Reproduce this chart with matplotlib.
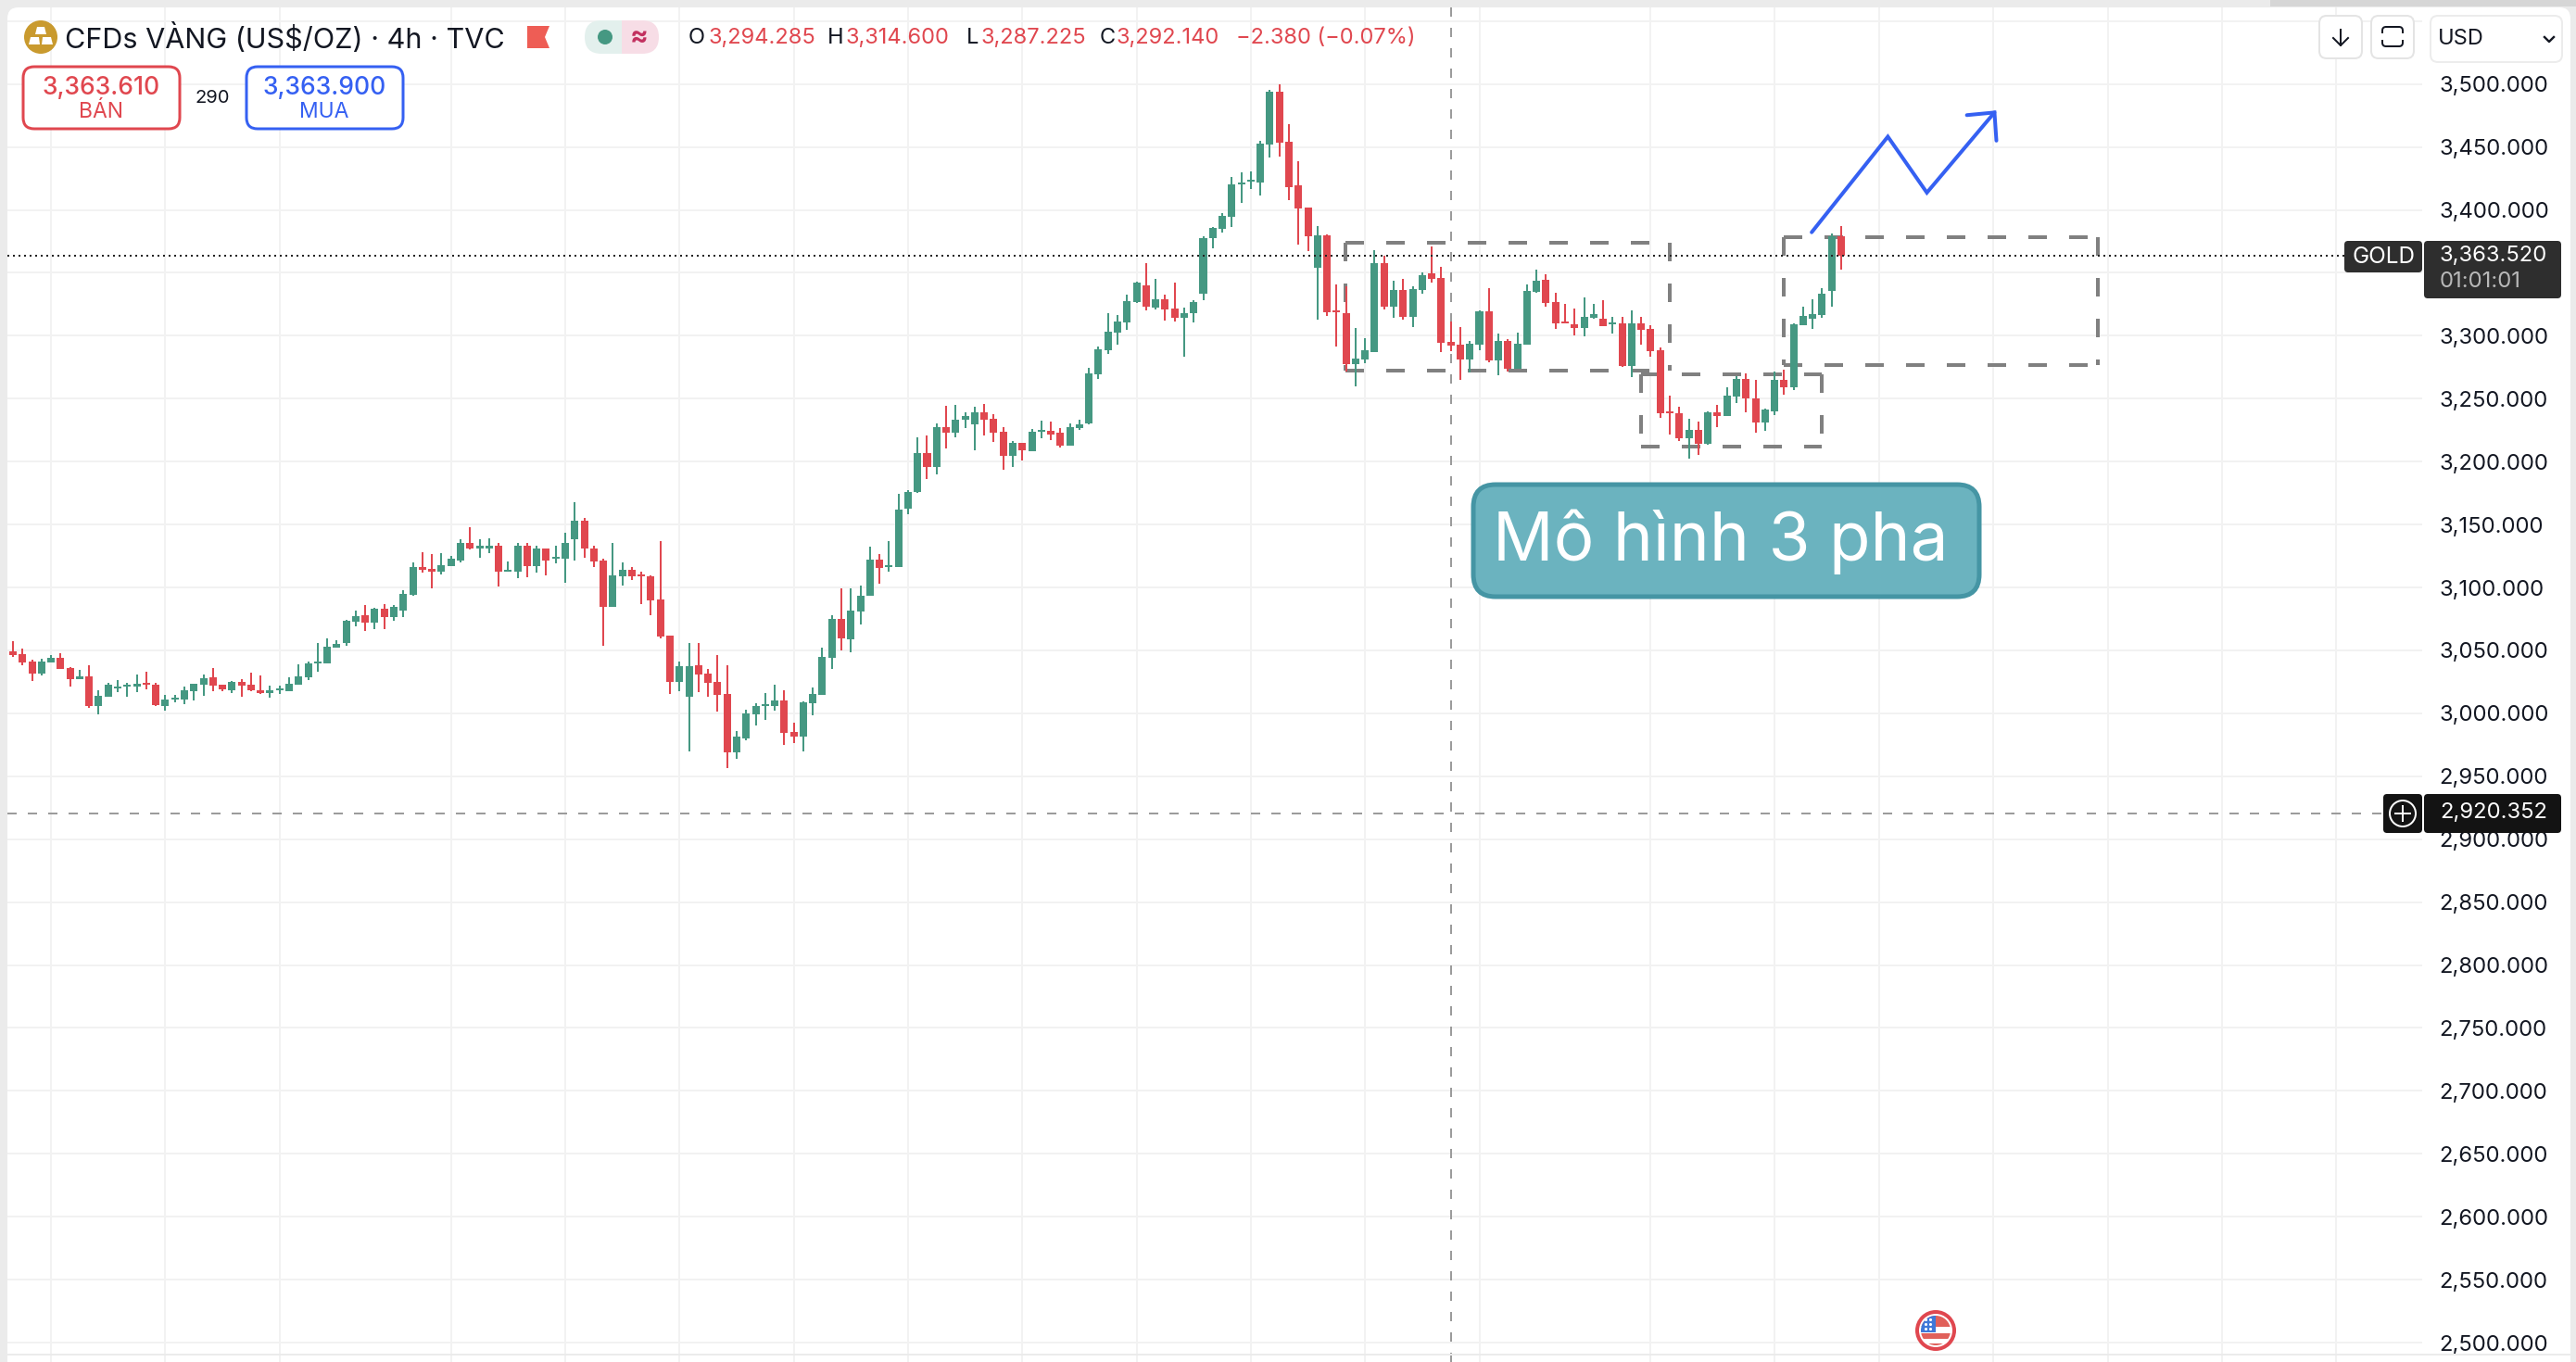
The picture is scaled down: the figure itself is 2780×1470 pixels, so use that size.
import matplotlib
matplotlib.use("Agg")
import matplotlib.pyplot as plt
from matplotlib.patches import FancyBboxPatch, Circle, Polygon, Rectangle

plt.rcParams['font.family'] = ['Inter', 'DejaVu Sans']
plt.rcParams['lines.scale_dashes'] = False

# gia tung nen, doc tu hinh
opens = [3049.0,3046.8,3040.9,3031.4,3040.2,3043.9,3035.8,3027.0,3029.2,3005.7,
         3013.0,3019.6,3021.1,3021.1,3024.0,3022.6,3005.7,3010.8,3010.8,3017.4,
         3022.6,3028.4,3022.6,3018.1,3024.8,3022.6,3018.1,3015.9,3018.1,3017.4,
         3022.6,3028.4,3039.5,3039.5,3052.0,3055.6,3072.5,3077.7,3071.8,3082.8,
         3076.2,3081.4,3093.9,3115.9,3114.4,3112.2,3116.6,3121.0,3135.0,3131.3,
         3131.3,3132.8,3112.2,3112.2,3132.8,3116.6,3130.6,3122.5,3122.5,3138.0,
         3152.7,3131.3,3121.0,3084.3,3108.6,3113.7,3110.0,3108.6,3090.2,3061.5,
         3024.8,3013.0,3038.0,3031.4,3024.8,3015.2,2968.9,2979.9,2999.0,3005.7,
         3005.7,3010.1,2985.1,2981.4,3007.9,3014.5,3043.9,3074.7,3058.6,3080.6,
         3093.1,3121.8,3115.9,3115.9,3162.3,3175.5,3207.1,3195.4,3227.7,3223.3,
         3233.6,3229.9,3239.5,3234.3,3224.0,3204.2,3214.5,3208.6,3224.0,3224.8,
         3222.6,3212.3,3227.0,3230.6,3269.6,3288.7,3302.7,3310.8,3326.9,3340.2,
         3322.5,3329.1,3321.8,3314.4,3318.1,3333.2,3377.3,3384.6,3394.2,3419.9,
         3422.8,3421.4,3452.2,3494.1,3454.4,3419.2,3401.5,3353.7,3379.5,3319.9,
         3317.7,3277.3,3281.0,3286.9,3357.4,3322.9,3336.1,3314.8,3336.1,3349.3,
         3345.7,3294.9,3292.7,3281.0,3292.7,3319.2,3280.2,3295.7,3273.6,3292.7,
         3334.6,3344.1,3326.5,3311.0,3308.8,3305.9,3314.0,3313.3,3308.8,3309.6,
         3275.8,3309.6,3305.2,3288.3,3239.8,3238.3,3218.4,3225.1,3214.0,3239.0,
         3236.1,3251.5,3265.5,3250.0,3230.9,3239.8,3264.7,3258.9,3308.1,3313.3,
         3316.2,3335.3,3379.4]
highs = [3057.1,3051.2,3042.4,3043.1,3046.1,3047.6,3036.5,3034.3,3038.0,3018.1,
         3024.0,3026.2,3024.0,3030.6,3032.9,3024.0,3014.5,3014.5,3021.1,3023.3,
         3030.6,3035.8,3022.6,3025.5,3027.0,3032.1,3029.9,3021.8,3021.8,3028.4,
         3038.7,3040.9,3055.6,3059.3,3057.8,3074.0,3081.4,3085.8,3083.6,3086.5,
         3085.8,3097.5,3119.6,3127.7,3126.2,3126.9,3124.7,3138.0,3148.2,3138.0,
         3138.7,3135.0,3120.3,3135.0,3135.0,3133.5,3131.3,3133.5,3143.8,3167.4,
         3154.9,3133.5,3122.5,3135.0,3119.6,3115.9,3112.2,3109.3,3136.5,3061.5,
         3040.9,3055.6,3055.6,3035.1,3046.1,3038.0,2985.8,3002.7,3007.9,3015.9,
         3022.6,3018.1,2992.4,3009.3,3020.4,3052.0,3077.7,3099.0,3099.0,3101.2,
         3132.1,3126.2,3136.5,3174.7,3177.0,3219.6,3220.4,3230.6,3244.6,3245.3,
         3239.5,3243.9,3246.1,3238.0,3227.7,3216.7,3215.2,3226.2,3232.9,3232.1,
         3227.0,3230.6,3233.6,3274.7,3291.7,3318.1,3316.6,3332.8,3343.1,3357.8,
         3345.3,3332.8,3342.4,3322.5,3328.4,3378.7,3386.1,3397.1,3426.5,3430.2,
         3430.9,3455.2,3495.6,3500.0,3468.4,3439.0,3402.2,3386.8,3380.2,3340.5,
         3339.0,3306.0,3297.9,3367.7,3363.3,3343.4,3344.9,3339.0,3350.1,3370.6,
         3354.5,3311.1,3306.7,3295.7,3319.9,3337.6,3301.6,3297.1,3302.2,3340.4,
         3352.9,3348.5,3333.8,3325.0,3321.3,3330.2,3325.0,3327.9,3314.7,3314.7,
         3319.9,3314.7,3308.1,3290.5,3252.2,3243.4,3233.9,3231.7,3239.8,3244.9,
         3258.9,3267.7,3269.9,3264.7,3241.9,3271.4,3272.8,3309.6,3322.8,3328.7,
         3337.5,3381.6,3386.8]
lows = [3044.6,3038.0,3025.5,3029.9,3040.2,3035.1,3021.1,3027.0,3004.2,2999.0,
        3013.0,3016.7,3013.0,3016.7,3018.9,3005.7,3002.0,3008.6,3007.1,3010.1,
        3013.7,3017.4,3017.4,3015.9,3013.0,3017.4,3015.2,3012.3,3015.2,3017.4,
        3022.6,3026.2,3032.9,3039.5,3052.0,3053.4,3068.9,3065.2,3066.7,3066.7,
        3073.3,3076.2,3093.1,3111.5,3099.0,3110.0,3116.6,3119.6,3129.9,3123.3,
        3126.9,3100.5,3112.2,3107.1,3107.8,3111.5,3109.3,3118.8,3103.4,3121.0,
        3123.3,3115.9,3053.4,3084.3,3101.2,3105.6,3086.5,3077.7,3059.3,3015.2,
        3017.4,2969.6,3016.7,3013.0,3001.2,2956.4,2963.8,2978.5,2990.2,2994.6,
        3002.0,2974.8,2976.3,2969.6,2998.3,3014.5,3035.1,3049.8,3048.3,3070.3,
        3093.1,3102.7,3112.2,3115.9,3157.9,3174.8,3186.5,3190.2,3210.1,3219.6,
        3227.0,3209.3,3221.1,3215.9,3193.2,3195.4,3201.2,3208.6,3218.9,3217.4,
        3211.5,3212.3,3225.5,3229.9,3265.9,3285.8,3293.1,3304.9,3326.2,3320.3,
        3321.1,3312.2,3311.5,3283.6,3310.8,3328.0,3369.2,3381.7,3386.1,3405.9,
        3416.9,3411.1,3441.9,3442.7,3408.1,3372.1,3367.0,3312.6,3315.5,3291.3,
        3271.4,3259.7,3278.0,3286.9,3320.7,3314.0,3312.6,3306.7,3333.2,3342.0,
        3286.9,3287.6,3264.8,3270.7,3288.3,3278.8,3268.5,3271.4,3273.6,3292.7,
        3333.8,3322.8,3305.2,3309.6,3300.0,3299.3,3313.3,3307.4,3301.5,3275.0,
        3266.9,3292.7,3283.1,3234.6,3221.4,3216.2,3202.3,3205.2,3213.3,3227.3,
        3236.1,3246.4,3239.0,3222.8,3224.3,3236.8,3253.0,3256.7,3308.1,3305.2,
        3314.0,3322.8,3352.2]
closes = [3046.1,3040.2,3031.4,3040.9,3043.9,3035.1,3027.0,3029.2,3005.7,3013.7,
          3022.6,3021.1,3022.6,3023.3,3022.6,3006.4,3010.8,3012.3,3018.1,3023.3,
          3027.7,3021.8,3018.9,3024.8,3021.8,3018.1,3015.9,3018.1,3019.6,3023.3,
          3029.2,3039.5,3040.9,3052.7,3054.9,3073.3,3077.0,3071.8,3082.8,3076.2,
          3084.3,3094.6,3115.9,3113.7,3112.2,3117.4,3122.5,3135.0,3130.6,3132.8,
          3133.5,3112.2,3113.7,3132.8,3116.6,3130.6,3121.0,3124.0,3135.0,3152.7,
          3130.6,3120.3,3084.3,3109.3,3113.7,3108.6,3108.6,3089.4,3060.8,3024.8,
          3037.3,3037.3,3030.6,3024.0,3014.5,2968.9,2981.4,2999.8,3005.7,3007.1,
          3010.1,2984.3,2981.4,3008.6,3015.2,3044.6,3074.7,3059.3,3081.4,3093.1,
          3121.8,3115.2,3117.4,3162.2,3175.5,3207.1,3195.4,3227.7,3222.6,3233.6,
          3236.5,3239.5,3233.6,3223.3,3204.2,3214.5,3209.3,3224.0,3225.5,3221.8,
          3212.3,3227.7,3229.9,3270.3,3289.4,3303.4,3311.5,3327.7,3342.4,3323.3,
          3329.1,3321.1,3314.4,3318.1,3326.9,3377.3,3385.3,3394.9,3420.6,3422.1,
          3424.3,3453.0,3494.1,3453.7,3417.7,3400.8,3378.7,3379.5,3318.5,3318.5,
          3277.3,3281.7,3288.3,3357.4,3322.9,3336.1,3314.8,3336.8,3347.9,3344.9,
          3294.2,3292.0,3281.0,3293.5,3319.2,3280.2,3295.7,3273.6,3293.4,3335.3,
          3343.4,3325.7,3309.6,3309.6,3305.9,3314.7,3316.9,3307.4,3310.3,3275.8,
          3309.6,3304.4,3287.5,3238.3,3238.3,3218.4,3225.1,3214.0,3239.0,3236.1,
          3252.2,3265.5,3250.0,3230.9,3241.2,3264.7,3258.9,3308.8,3315.5,3316.9,
          3333.1,3379.4,3363.5]

# luoi gia va moc thoi gian (so thu tu nen)
price_ticks = list(range(2500, 3551, 50))
hidden_ticks = [3350, 3550]  # bi nhan gia / nut USD che
time_grid = [4, 16, 28, 46, 58, 70, 82, 94, 106, 118, 130, 142, 154, 172, 185, 196, 208, 220, 232, 244]

last_price = 3363.52
cross_price = 2920.352
cross_idx = 151

# cac hinh ve tren chart: (nen trai, nen phai, gia duoi, gia tren)
boxes = [(139.9, 174.0, 3272.3, 3373.9),
         (171.0, 190.0, 3212.0, 3269.3),
         (186.0, 219.0, 3276.7, 3378.5)]
path_idx = [188.9, 196.9, 201.0, 208.1]
path_price = [3382.2, 3458.2, 3413.7, 3477.4]
head_idx = [205.2, 208.1, 208.3]
head_price = [3475.3, 3477.4, 3455.0]

green = '#459882'
red = '#e0474f'
blue = '#3560f2'

W, H = 2780, 1470
PX = 0.72  # px -> pt o dpi 100

fig = plt.figure(figsize=(W / 100, H / 100), dpi=100, facecolor='#ebebeb')

# nen trang phia sau
bg = fig.add_axes([0, 0, 1, 1], zorder=0)
bg.set_xlim(0, W)
bg.set_ylim(H, 0)
bg.axis('off')
bg.add_patch(FancyBboxPatch((8, 8), 2766, 1480, boxstyle='round,pad=0,rounding_size=12',
                            fc='white', ec='none'))
bg.add_patch(Rectangle((2450, 0), 330, 7, fc='#d6d6d6', ec='none'))

# chart chinh: x = so thu tu nen, y = gia
step = 10.276
ax = fig.add_axes([8 / W, 0, (2614 - 8) / W, (H - 8) / H], zorder=1)
ax.patch.set_alpha(0)
ax.set_xlim((8 - 14) / step, (2614 - 14) / step)
scale = 1.3583
ax.set_ylim(2500 - (1470 - 1449) / scale, 3500 + (90.7 - 8) / scale)
for s in ax.spines.values():
    s.set_visible(False)

ax.set_xticks(time_grid)
ax.set_xticklabels([])
ax.set_yticks(price_ticks)
ax.set_yticklabels(['' if p in hidden_ticks else f'{p:,.3f}' for p in price_ticks])
ax.yaxis.tick_right()
ax.tick_params(axis='both', length=0)
ax.tick_params(axis='y', pad=13.5, labelsize=17.2, labelcolor='#131722')
ax.grid(True, color='#f2f2f2', lw=2 * PX, zorder=0)
ax.set_axisbelow(True)

# ve box net dut, moi canh ve rieng nhu tren tradingview
dash = (0, (20 * PX, 24 * PX))
for x0, x1, p0, p1 in boxes:
    for xs, ys in [([x0, x1], [p1, p1]), ([x0, x1], [p0, p0]), ([x0, x0], [p1, p0]), ([x1, x1], [p1, p0])]:
        ax.plot(xs, ys, color='#808080', lw=4 * PX, linestyle=dash, dash_capstyle='butt', zorder=2)

# duong cat ngang doc
ax.axvline(cross_idx, color='#9b9b9b', lw=2 * PX, linestyle=(0, (10 * PX, 12 * PX)), dash_capstyle='butt', zorder=2)
ax.axhline(cross_price, color='#9b9b9b', lw=2 * PX, linestyle=(0, (10 * PX, 12 * PX)), dash_capstyle='butt', zorder=2)

# nen
idx = list(range(len(opens)))
colors = [green if c >= o else red for o, c in zip(opens, closes)]
ax.vlines(idx, lows, highs, colors=colors, lw=2 * PX, zorder=3)
ax.bar(idx, [abs(c - o) for o, c in zip(opens, closes)], bottom=[min(o, c) for o, c in zip(opens, closes)],
       width=0.78, color=colors, linewidth=0, zorder=3)

# gia hien tai
ax.axhline(last_price, color='#222222', lw=2 * PX, linestyle=(0, (2 * PX, 4 * PX)), dash_capstyle='butt', zorder=4)

# mui ten xanh
ax.plot(path_idx, path_price, color=blue, lw=4 * PX, solid_joinstyle='miter', solid_capstyle='round', zorder=5)
ax.plot(head_idx, head_price, color=blue, lw=4 * PX, solid_joinstyle='miter', solid_capstyle='round', zorder=5)

# lop giao dien, toa do pixel
ui = fig.add_axes([0, 0, 1, 1], zorder=2)
ui.patch.set_alpha(0)
ui.set_xlim(0, W)
ui.set_ylim(H, 0)
ui.axis('off')


def rbox(x0, y0, x1, y1, r, fc='white', ec='none', lw=0):
    ui.add_patch(FancyBboxPatch((x0, y0), x1 - x0, y1 - y0, boxstyle=f'round,pad=0,rounding_size={r}',
                                fc=fc, ec=ec, lw=lw * PX))


def label(x, y, s, size, color='#131722', ha='left', **kw):
    ui.text(x, y, s, fontsize=size, color=color, ha=ha, va='center', **kw)


ui.plot([8, W - 6], [1462, 1462], color='#ebebeb', lw=2 * PX)

# logo vang
ui.add_patch(Circle((44, 40), 18, fc='#c99a2e', ec='none'))
ui.add_patch(Polygon([(40, 29), (48, 29), (50, 37), (38, 37)], fc='white', ec='none'))
ui.add_patch(Polygon([(33, 40), (42, 40), (43, 48), (31, 48)], fc='white', ec='none'))
ui.add_patch(Polygon([(46, 40), (55, 40), (57, 48), (45, 48)], fc='white', ec='none'))

label(70, 41, 'CFDs VÀNG (US$/OZ) · 4h · TVC', 22)

# co do
ui.add_patch(Polygon([(569, 28), (593, 28), (588, 40), (593, 52), (569, 52)], fc='#ee5d55', ec='none'))

# pill trang thai
rbox(631, 22, 690, 58, 18, fc='#e3f0ed')
rbox(652, 22, 711, 58, 18, fc='#f7dde6')
ui.add_patch(Rectangle((650, 22), 21, 36, fc='#e3f0ed', ec='none'))
ui.add_patch(Circle((653, 40), 8, fc=green, ec='none'))
label(690, 40, '≈', 21, color='#c2305f', ha='center', fontweight='bold')

# OHLC
for x, s, c in [(743, 'O', '#131722'), (765, '3,294.285', red), (893, 'H', '#131722'), (913, '3,314.600', red),
                (1043, 'L', '#131722'), (1058, '3,287.225', red), (1187, 'C', '#131722'), (1205, '3,292.140', red),
                (1334, '−2.380 (−0.07%)', red)]:
    label(x, 41, s, 17, color=c)

# ban / mua
rbox(25, 72, 194, 139, 12, ec=red, lw=3)
label(109, 95, '3,363.610', 19, color=red, ha='center', fontweight='medium')
label(109, 121, 'BÁN', 16.5, color=red, ha='center')
label(229, 106, '290', 14.5, ha='center')
rbox(266, 72, 435, 139, 12, ec=blue, lw=3)
label(350, 95, '3,363.900', 19, color=blue, ha='center', fontweight='medium')
label(350, 121, 'MUA', 16.5, color=blue, ha='center')

# nut goc phai
rbox(2503, 17, 2549, 63, 8, ec='#e4e4e4', lw=2)
ui.plot([2526, 2526], [32, 49], color='#131722', lw=2 * PX)
ui.plot([2518, 2526, 2534], [41, 49, 41], color='#131722', lw=2 * PX)
rbox(2559, 17, 2605, 63, 8, ec='#e4e4e4', lw=2)
rbox(2571, 29, 2593, 50, 4, ec='#131722', lw=2)
ui.add_patch(Rectangle((2568, 36), 28, 7, fc='white', ec='none'))
rbox(2623, 17, 2765, 67, 8, ec='#ececec', lw=2)
label(2631, 42, 'USD', 17)
ui.plot([2746, 2751, 2756], [40, 45, 40], color='#131722', lw=2.4 * PX)

# nhan gia
rbox(2530, 260, 2614, 294, 4, fc='#2e2e2e')
label(2572, 277, 'GOLD', 17.5, color='white', ha='center')
rbox(2616, 260, 2764, 322, 4, fc='#2e2e2e')
label(2633, 276, '3,363.520', 17.2, color='white')
label(2633, 304, '01:01:01', 17.2, color='#b8b8b8')

rbox(2572, 857, 2614, 899, 4, fc='#131313')
ui.add_patch(Circle((2593, 878), 14, fc='none', ec='white', lw=2 * PX))
ui.plot([2585, 2601], [878, 878], color='white', lw=2 * PX)
ui.plot([2593, 2593], [870, 886], color='white', lw=2 * PX)
rbox(2616, 857, 2764, 899, 4, fc='#131313')
label(2633, 877, f'{cross_price:,.3f}', 17.2, color='white')

# hop chu
rbox(1590, 523, 2136, 644, 24, fc='#6bb3bf', ec='#4595a4', lw=5)
ui.text(1611, 585, 'Mô hình 3 pha', fontsize=52.4, color='white', ha='left', va='center')

# co my
cx, cy = 2089, 1436
clip = Circle((cx, cy), 16, transform=ui.transData)
ui.add_patch(Circle((cx, cy), 20, fc='white', ec='#e0474f', lw=4 * PX))
for y0, h, c, x0, w in [(1420, 12, '#e0605a', 2073, 32), (1439, 6, '#e0605a', 2073, 32),
                        (1450, 6, '#e0605a', 2073, 32), (1420, 18, '#3f78d8', 2073, 16)]:
    r = Rectangle((x0, y0), w, h, fc=c, ec='none')
    ui.add_patch(r)
    r.set_clip_path(clip)
star_x = [2078, 2083, 2078, 2083, 2078, 2083]
star_y = [1424, 1424, 1429, 1429, 1434, 1434]
ui.scatter(star_x, star_y, s=5, color='white', linewidths=0, zorder=5)

fig.savefig('out.png', dpi=100, facecolor=fig.get_facecolor())
